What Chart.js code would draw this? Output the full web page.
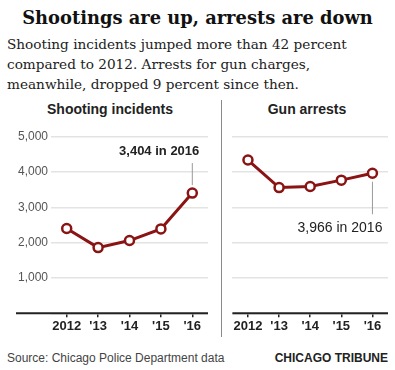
<!DOCTYPE html>
<html>
<head>
<meta charset="utf-8">
<script src="https://cdn.jsdelivr.net/npm/chart.js@4.4.1/dist/chart.umd.min.js"></script>
<style>
  body { margin: 0; background: #fff; }
  #wrap { position: relative; width: 395px; height: 370px; overflow: hidden; font-family: "Liberation Sans", Arial, sans-serif; color: #222; }
  .abs { position: absolute; }
  #title { left: 0; width: 395px; top: 9px; text-align: center; line-height: 1; }
  #title span { font-family: "DejaVu Serif", serif; font-weight: bold; font-size: 18px; white-space: nowrap; display: inline-block; color: #111; }
  #sub { left: 7px; top: 34px; font-family: "DejaVu Serif", serif; font-size: 15px; line-height: 20px; color: #222; white-space: nowrap; }
  .ptitle { top: 101.5px; font-size: 14px; font-weight: bold; line-height: 1; text-align: center; color: #222; }
  #sep { left: 221px; top: 100px; width: 1px; height: 237px; background: #8a8a8a; }
  .foot { top: 352px; font-size: 12px; line-height: 1; }
</style>
</head>
<body>
<div id="wrap">
  <div id="title" class="abs"><span id="titleText">Shootings are up, arrests are down</span></div>
  <div id="sub" class="abs"><span id="sub1">Shooting incidents jumped more than 42 percent</span><br>compared to 2012. Arrests for gun charges,<br>meanwhile, dropped 9 percent since then.</div>
  <div class="abs ptitle" style="left:0;width:220px;">Shooting incidents</div>
  <div class="abs ptitle" style="left:222px;width:170px;">Gun arrests</div>
  <div id="sep" class="abs"></div>
  <canvas id="shootChart" class="abs" style="left:0;top:120px;"></canvas>
  <canvas id="arrestChart" class="abs" style="left:222px;top:120px;"></canvas>
  <div class="abs foot" style="left:7px;color:#444;">Source: Chicago Police Department data</div>
  <div class="abs foot" style="right:7px;font-weight:bold;color:#222;">CHICAGO TRIBUNE</div>
</div>
<script>
const years = ['2012', "'13", "'14", "'15", "'16"];
const shootings = [2400, 1860, 2060, 2390, 3404];
const arrests = [4340, 3560, 3590, 3770, 3966];
const yTicks = [0, 1000, 2000, 3000, 4000, 5000];

// fit header text widths to the reference
function fitWidth(el, target) {
    const w = el.getBoundingClientRect().width;
    const fs = parseFloat(getComputedStyle(el).fontSize);
    return fs * target / w;
}
const t = document.getElementById('titleText');
t.style.fontSize = fitWidth(t, 351) + 'px';
const s1 = document.getElementById('sub1');
document.getElementById('sub').style.fontSize = fitWidth(s1, 340) + 'px';

const red = '#8a1313';

// baseline that runs under the y labels
const baseline = {
    id: 'baseline',
    beforeDatasetsDraw(chart, args, opts) {
        const ctx = chart.ctx;
        const y = chart.scales.y.getPixelForValue(0);
        ctx.save();
        ctx.strokeStyle = '#222';
        ctx.lineWidth = 2;
        ctx.beginPath();
        ctx.moveTo(opts.from != null ? opts.from : chart.chartArea.left, y);
        ctx.lineTo(chart.chartArea.right, y);
        ctx.stroke();
        ctx.restore();
    }
};

// label with a leader line pointing at one point
const callout = {
    id: 'callout',
    afterDatasetsDraw(chart, args, opts) {
        const p = chart.getDatasetMeta(0).data[opts.index];
        const ctx = chart.ctx;
        ctx.save();
        ctx.strokeStyle = '#999';
        ctx.lineWidth = 1;
        ctx.beginPath();
        ctx.moveTo(p.x, p.y + opts.line[0]);
        ctx.lineTo(p.x, p.y + opts.line[1]);
        ctx.stroke();
        ctx.fillStyle = '#222';
        ctx.font = opts.font;
        ctx.textAlign = 'right';
        ctx.textBaseline = 'alphabetic';
        ctx.fillText(opts.text, p.x + opts.dx, p.y + opts.dy);
        ctx.restore();
    }
};

function makeChart(id, w, values, cfg) {
    const canvas = document.getElementById(id);
    canvas.width = w;
    canvas.height = 222;
    return new Chart(canvas.getContext('2d'), {
        type: 'line',
        data: {
            labels: years,
            datasets: [{
                data: values,
                borderColor: red,
                borderWidth: 3,
                pointBackgroundColor: '#fff',
                pointBorderColor: red,
                pointBorderWidth: 2.5,
                pointRadius: 4.5,
                tension: 0
            }]
        },
        plugins: [baseline, callout],
        options: {
            responsive: false,
            animation: false,
            locale: 'en-US',
            layout: { padding: { top: 16.7, right: cfg.padRight, bottom: 0, left: 0 } },
            plugins: {
                legend: { display: false },
                tooltip: { enabled: false },
                baseline: { from: cfg.baseFrom },
                callout: cfg.callout
            },
            scales: {
                x: {
                    offset: true,
                    border: { display: false },
                    grid: { drawOnChartArea: false, drawTicks: true, tickLength: 4, color: '#222', lineWidth: 1.5 },
                    ticks: { color: '#222', font: { family: 'Liberation Sans', size: 13, weight: 'bold' }, padding: 1, maxRotation: 0, autoSkip: false },
                    afterFit: (sc) => { sc.height = 28.7; }
                },
                y: {
                    min: yTicks[0],
                    max: yTicks[yTicks.length - 1],
                    afterBuildTicks: (sc) => { sc.ticks = yTicks.map(v => ({ value: v })); },
                    border: { display: false },
                    grid: { color: '#e3e3e3', lineWidth: 1.5, drawTicks: false },
                    ticks: {
                        display: cfg.yLabels,
                        color: '#555',
                        font: { family: 'Liberation Sans', size: 12 },
                        padding: 3,
                        callback: (v) => v === 0 ? '' : v.toLocaleString('en-US')
                    },
                    afterFit: (sc) => { sc.width = cfg.yWidth; }
                }
            }
        }
    });
}

makeChart('shootChart', 215, shootings, {
    padRight: 4, yWidth: 51, yLabels: true, baseFrom: 16,
    callout: { index: 4, text: '3,404 in 2016', font: 'bold 13px "Liberation Sans"', dx: 7, dy: -38, line: [-8, -30] }
});
makeChart('arrestChart', 173, arrests, {
    padRight: 3.8, yWidth: 10.4, yLabels: false, baseFrom: null,
    callout: { index: 4, text: '3,966 in 2016', font: '14px "Liberation Sans"', dx: 10, dy: 59, line: [8.5, 41] }
});
</script>
</body>
</html>
